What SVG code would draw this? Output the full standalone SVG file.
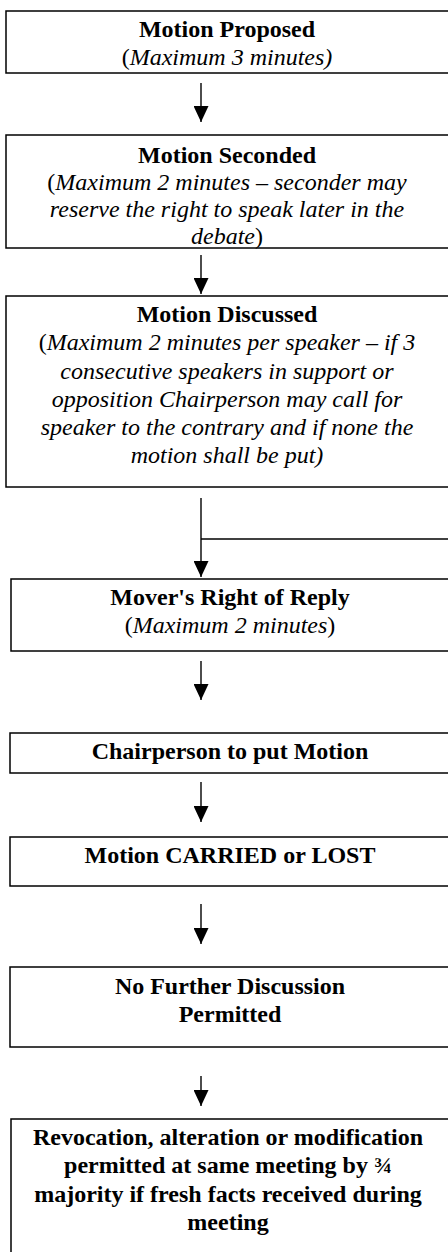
<svg xmlns="http://www.w3.org/2000/svg" width="448" height="1252" viewBox="0 0 448 1252">
<defs>
<style>
.box{fill:#fff;stroke:#000;stroke-width:1.5}
.t{font-family:'Liberation Serif','Times New Roman',Times,'DejaVu Serif',serif;font-size:24px;fill:#000;text-anchor:middle}
.b{font-weight:bold}
.i{font-style:italic}
.ln{stroke:#000;stroke-width:1.4;fill:none}
</style>
<marker id="ah" viewBox="0 0 16 15" refX="16" refY="7.5" markerWidth="16" markerHeight="15" markerUnits="userSpaceOnUse" orient="auto">
<path d="M0,0 L16,7.5 L0,15 Z" fill="#000"/>
</marker>
</defs>
<rect width="448" height="1252" fill="#fff"/>
<g id="connectors">
<line class="ln" x1="201" y1="83" x2="201" y2="122" marker-end="url(#ah)"/>
<line class="ln" x1="201" y1="255" x2="201" y2="294" marker-end="url(#ah)"/>
<line class="ln" x1="201" y1="498" x2="201" y2="577" marker-end="url(#ah)"/>
<line class="ln" x1="201" y1="539" x2="450" y2="539"/>
<line class="ln" x1="201" y1="661" x2="201" y2="700" marker-end="url(#ah)"/>
<line class="ln" x1="201" y1="782" x2="201" y2="822" marker-end="url(#ah)"/>
<line class="ln" x1="201" y1="904" x2="201" y2="944" marker-end="url(#ah)"/>
<line class="ln" x1="201" y1="1076" x2="201" y2="1106" marker-end="url(#ah)"/>
</g>
<g font-family="'Liberation Serif','Times New Roman',serif">
<g id="n1">
<rect class="box" x="6" y="11" width="460" height="62"/>
<text class="t b" x="227" y="37">Motion Proposed</text>
<text class="t" x="227" y="65">(<tspan class="i">Maximum 3 minutes)</tspan></text>
</g>
<g id="n2">
<rect class="box" x="6" y="135" width="460" height="113"/>
<text class="t b" x="227" y="163">Motion Seconded</text>
<text class="t" x="227" y="190">(<tspan class="i">Maximum 2 minutes – seconder may</tspan></text>
<text class="t i" x="227" y="217">reserve the right to speak later in the</text>
<text class="t" x="227" y="244"><tspan class="i">debate</tspan>)</text>
</g>
<g id="n3">
<rect class="box" x="6" y="296" width="460" height="191"/>
<text class="t b" x="227" y="322">Motion Discussed</text>
<text class="t" x="227" y="350">(<tspan class="i">Maximum 2 minutes per speaker – if 3</tspan></text>
<text class="t i" x="227" y="379">consecutive speakers in support or</text>
<text class="t i" x="227" y="407">opposition Chairperson may call for</text>
<text class="t i" x="227" y="435">speaker to the contrary and if none the</text>
<text class="t i" x="227" y="463">motion shall be put)</text>
</g>
<g id="n4">
<rect class="box" x="11" y="579" width="460" height="72"/>
<text class="t b" x="230" y="605">Mover's Right of Reply</text>
<text class="t" x="230" y="633">(<tspan class="i">Maximum 2 minutes</tspan>)</text>
</g>
<g id="n5">
<rect class="box" x="10" y="733" width="460" height="40"/>
<text class="t b" x="230" y="759">Chairperson to put Motion</text>
</g>
<g id="n6">
<rect class="box" x="10" y="837" width="460" height="49"/>
<text class="t b" x="230" y="863">Motion CARRIED or LOST</text>
</g>
<g id="n7">
<rect class="box" x="10" y="967" width="460" height="80"/>
<text class="t b" x="230" y="994">No Further Discussion</text>
<text class="t b" x="230" y="1022">Permitted</text>
</g>
<g id="n8">
<rect class="box" x="11" y="1119" width="460" height="160"/>
<text class="t b" x="228" y="1145">Revocation, alteration or modification</text>
<text class="t b" x="228" y="1173">permitted at same meeting by ¾</text>
<text class="t b" x="228" y="1202">majority if fresh facts received during</text>
<text class="t b" x="228" y="1230">meeting</text>
</g>
</g>
</svg>
